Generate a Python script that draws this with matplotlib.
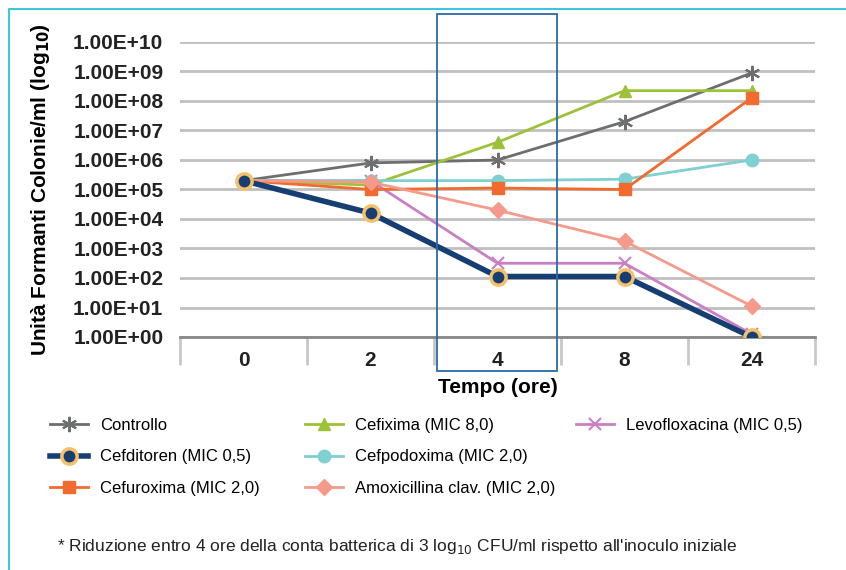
import matplotlib.pyplot as plt
from matplotlib.lines import Line2D
from matplotlib.patches import Rectangle

plt.rcParams['font.family'] = ['Liberation Sans', 'DejaVu Sans']

# time points (hours) and log10 CFU/ml
tempi = ['0', '2', '4', '8', '24']
controllo = [5.3, 5.9, 6.0, 7.3, 8.95]
cefixima = [5.3, 5.15, 6.6, 8.35, 8.35]
levofloxacina = [5.3, 5.3, 2.5, 2.5, 0.1]
cefditoren = [5.3, 4.2, 2.05, 2.05, 0.0]
cefpodoxima = [5.3, 5.3, 5.3, 5.35, 6.0]
cefuroxima = [5.3, 5.0, 5.05, 5.0, 8.1]
amoxicillina = [5.3, 5.25, 4.3, 3.25, 1.05]

yticks = list(range(0, 11))
ytick_labels = ['1.00E+%02d' % k for k in yticks]

fig = plt.figure(figsize=(8.46, 5.70), dpi=100)
ax = fig.add_axes([180 / 846, 1 - 337 / 570, 635 / 846, 295 / 570])

x = range(len(tempi))
ax.plot(x, controllo, color='#6d6e70', lw=2, marker=(6, 2, 0), ms=11, mew=1.5, label='Controllo', zorder=3)
ax.plot(x, cefixima, color='#9dc23a', lw=2, marker='^', ms=9, label='Cefixima (MIC 8,0)', zorder=3)
ax.plot(x, levofloxacina, color='#c97fc4', lw=2, marker='x', ms=9, mew=1.5, label='Levofloxacina (MIC 0,5)', zorder=3)
ax.plot(x, cefditoren, color='#173e73', lw=4, marker='o', ms=11, mfc='#173e73', mec='#f5c06a', mew=2.5,
        label='Cefditoren (MIC 0,5)', zorder=4)
ax.plot(x, cefpodoxima, color='#7fd0d0', lw=2, marker='o', ms=9, label='Cefpodoxima (MIC 2,0)', zorder=3)
ax.plot(x, cefuroxima, color='#f26a2d', lw=2, marker='s', ms=8, label='Cefuroxima (MIC 2,0)', zorder=3)
ax.plot(x, amoxicillina, color='#f59a8a', lw=2, marker='D', ms=8, label='Amoxicillina clav. (MIC 2,0)', zorder=3)

ax.set_xlim(-0.46, 4.5)
ax.set_ylim(0, 10)
ax.set_yticks(yticks)
ax.set_yticklabels(ytick_labels, fontsize=15, fontweight='bold', color='#222222')
ax.set_xticks(list(x))
ax.set_xticklabels(tempi, fontsize=15, fontweight='bold', color='#222222')
ax.tick_params(axis='y', length=0, pad=12)
ax.tick_params(axis='x', length=0, pad=10)
ax.set_xticks([i - 0.5 for i in range(6)], minor=True)
ax.tick_params(axis='x', which='minor', length=20, width=2, color='#c8c8c8')
ax.grid(axis='y', color='#c0c0c0', lw=2)
for s in ['top', 'right', 'left']:
    ax.spines[s].set_visible(False)
ax.spines['bottom'].set_color('#888888')
ax.spines['bottom'].set_linewidth(2)

ax.set_xlabel('Tempo (ore)', fontsize=15, fontweight='bold', labelpad=6)
fig.text(40 / 846, 1 - 190 / 570, 'Unità Formanti Colonie/ml (log$_{\\mathbf{10}}$)', rotation=90,
         fontsize=15, fontweight='bold', ha='center', va='center')

# highlight box around 4 h
fig.patches.append(Rectangle((437 / 846, 1 - 371 / 570), 120 / 846, 357 / 570, transform=fig.transFigure,
                             fill=False, ec='#2a6aa8', lw=1.3, zorder=5))
# outer frame (top and left only)
fig.add_artist(Line2D([9 / 846, 9 / 846, 1], [0, 1 - 9 / 570, 1 - 9 / 570], transform=fig.transFigure,
                      color='#3ec6e0', lw=1.5))

h, l = ax.get_legend_handles_labels()
hd = dict(zip(l, h))
columns = [
    (50, ['Controllo', 'Cefditoren (MIC 0,5)', 'Cefuroxima (MIC 2,0)']),
    (305, ['Cefixima (MIC 8,0)', 'Cefpodoxima (MIC 2,0)', 'Amoxicillina clav. (MIC 2,0)']),
    (576, ['Levofloxacina (MIC 0,5)']),
]
for xpos, names in columns:
    fig.legend([hd[k] for k in names], names, loc='upper left',
               bbox_to_anchor=(xpos / 846, 1 - 418 / 570), frameon=False, fontsize=12,
               handlelength=2.3, labelspacing=0.98, handletextpad=0.7,
               borderpad=0, borderaxespad=0)

fig.text(57 / 846, 1 - 546 / 570,
         "* Riduzione entro 4 ore della conta batterica di 3 log$_{10}$ CFU/ml rispetto all'inoculo iniziale",
         fontsize=12.5, va='center', color='#222222')

fig.savefig('out.png', dpi=100)
